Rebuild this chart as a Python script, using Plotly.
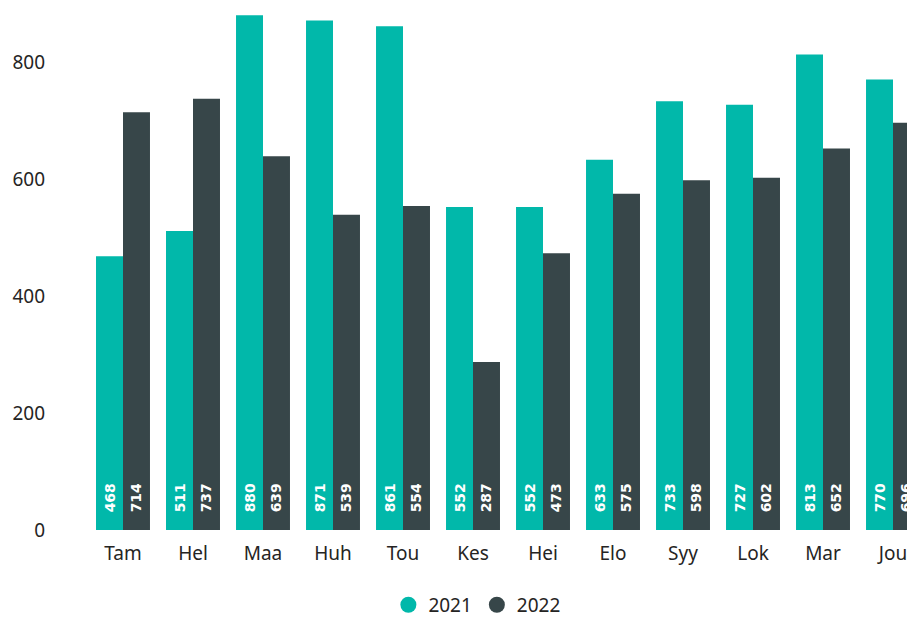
import plotly.graph_objects as go

months = ["Tam", "Hel", "Maa", "Huh", "Tou", "Kes", "Hei", "Elo", "Syy", "Lok", "Mar", "Jou"]
v2021 = [468, 511, 880, 871, 861, 552, 552, 633, 733, 727, 813, 770]
v2022 = [714, 737, 639, 539, 554, 287, 473, 575, 598, 602, 652, 696]
series_names = ["2021", "2022"]
colors = ["#01B8AA", "#374649"]
y_ticks = [0, 200, 400, 600, 800]

label_font = dict(family="DejaVu Sans, sans-serif", size=14, color="white", weight="bold")
pad = "\u00a0" * 3

fig = go.Figure()
for name, vals, col in zip(series_names, [v2021, v2022], colors):
    fig.add_trace(go.Bar(
        x=months, y=vals, name=name, marker=dict(color=col, line=dict(width=0)),
        text=[pad + str(v) for v in vals], textposition="inside", insidetextanchor="start",
        textangle=-90, textfont=label_font, constraintext="none", showlegend=False,
        cliponaxis=True, hoverinfo="x+y",
    ))
for name, col in zip(series_names, colors):
    fig.add_trace(go.Scatter(
        x=[None], y=[None], mode="markers", name=name,
        marker=dict(color=col, size=18, symbol="circle"), showlegend=True,
    ))

fig.update_layout(
    width=907, height=613, autosize=False,
    margin=dict(l=42, r=0, t=2, b=91, autoexpand=False),
    paper_bgcolor="white", plot_bgcolor="white",
    barmode="group", bargap=0.229, bargroupgap=0,
    font=dict(family="Segoe UI, Noto Sans, sans-serif", size=19, color="#252423"),
    xaxis=dict(range=[-0.5 - 38 / 70, 11.5 - 13 / 70], showgrid=False, zeroline=False,
               showline=False, ticks="", ticklabelstandoff=10,
               tickfont=dict(size=19, color="#252423")),
    yaxis=dict(range=[0, 520 / 0.585], tickvals=y_ticks, showgrid=False, zeroline=False,
               showline=False, ticks="", ticklabelstandoff=4,
               tickfont=dict(size=19, color="#252423")),
    legend=dict(orientation="h", x=0.4935, xanchor="center", y=-0.144, yanchor="middle",
                font=dict(size=19, color="#252423"), itemwidth=30, bgcolor="rgba(0,0,0,0)"),
)

fig.write_html("out.html")
